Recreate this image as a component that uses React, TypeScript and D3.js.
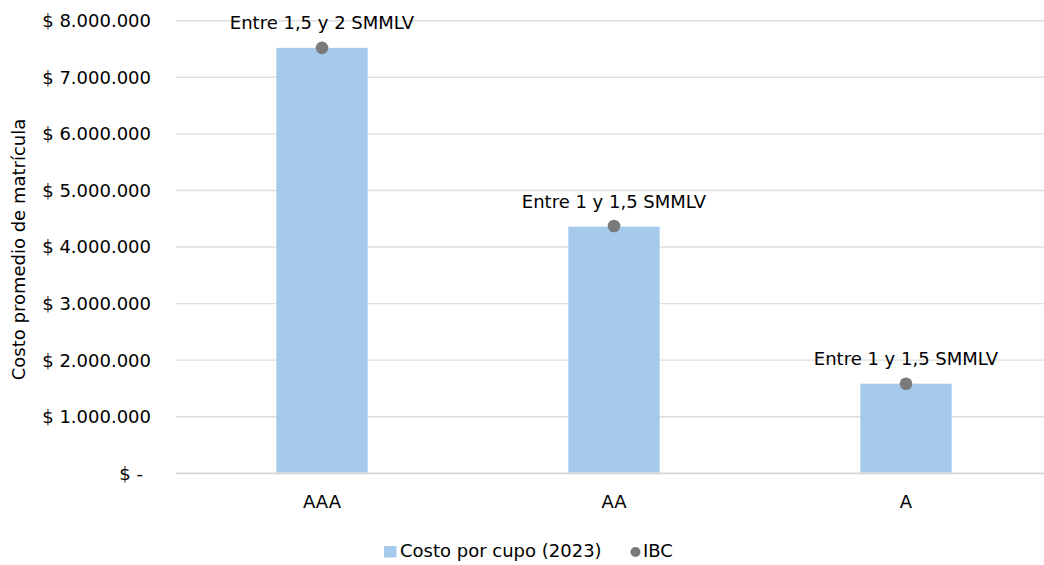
import React from "react";
import * as d3 from "d3";

const categories = ["AAA", "AA", "A"];
const costoPorCupo = [7520000, 4360000, 1584000];
const ibc = [7520000, 4370000, 1584000];
const ibcLabels = ["Entre 1,5 y 2 SMMLV", "Entre 1 y 1,5 SMMLV", "Entre 1 y 1,5 SMMLV"];
const yTicks = [0, 1000000, 2000000, 3000000, 4000000, 5000000, 6000000, 7000000, 8000000];
const yTickLabels = ["$ -", "$ 1.000.000", "$ 2.000.000", "$ 3.000.000", "$ 4.000.000", "$ 5.000.000", "$ 6.000.000", "$ 7.000.000", "$ 8.000.000"];
const yTitle = "Costo promedio de matrícula";
const legendBar = "Costo por cupo (2023)";
const legendDot = "IBC";

const W = 1044;
const H = 565;
const FONT = "'DejaVu Sans', sans-serif";
const FS = 18;

export default function App() {
  const x = d3
    .scaleBand<string>()
    .domain(categories)
    .range([176, 1052])
    .paddingInner(0.687)
    .paddingOuter(0.3435);
  const y = d3.scaleLinear().domain([0, 8000000]).range([473.3, 20.7]);

  return (
    <div style={{ position: "absolute", left: 0, top: 0 }}>
      <svg width={W} height={H} style={{ display: "block", fontFamily: FONT }}>
        <rect x={0} y={0} width={W} height={H} fill="#ffffff" />
        {/* gridlines */}
        {yTicks.map((t, i) => (
          <line
            key={"g" + i}
            x1={176}
            x2={1052}
            y1={y(t)}
            y2={y(t)}
            stroke={t === 0 ? "#D4D4D4" : "#DEDEDE"}
            strokeWidth={t === 0 ? 1.8 : 1.4}
          />
        ))}
        {/* y tick labels */}
        {yTicks.map((t, i) => (
          <text
            key={"yl" + i}
            x={t === 0 ? 143 : 151}
            y={y(t)}
            dy="0.36em"
            textAnchor="end"
            fontSize={FS}
            fill="#000"
          >
            {yTickLabels[i]}
          </text>
        ))}
        {/* y title */}
        <text
          transform={`translate(24.5, 249.5) rotate(-90)`}
          textAnchor="middle"
          fontSize={FS}
          fill="#000"
        >
          {yTitle}
        </text>
        {/* bars */}
        {categories.map((c, i) => (
          <rect
            key={"b" + i}
            x={x(c)!}
            y={y(costoPorCupo[i])}
            width={x.bandwidth()}
            height={y(0) - y(costoPorCupo[i]) - 0.9}
            fill="#A6CAEC"
          />
        ))}
        {/* IBC dots */}
        {categories.map((c, i) => (
          <circle
            key={"d" + i}
            cx={x(c)! + x.bandwidth() / 2}
            cy={y(ibc[i])}
            r={6.3}
            fill="#7A7A7A"
          />
        ))}
        {/* IBC labels */}
        {categories.map((c, i) => (
          <text
            key={"l" + i}
            x={x(c)! + x.bandwidth() / 2}
            y={y(ibc[i]) - 18.5}
            textAnchor="middle"
            fontSize={FS}
            fill="#000"
          >
            {ibcLabels[i]}
          </text>
        ))}
        {/* x labels */}
        {categories.map((c, i) => (
          <text
            key={"x" + i}
            x={x(c)! + x.bandwidth() / 2}
            y={508}
            textAnchor="middle"
            fontSize={FS}
            fill="#000"
          >
            {c}
          </text>
        ))}
        {/* legend */}
        <rect x={384} y={546} width={12.5} height={11.5} fill="#A6CAEC" />
        <text x={400} y={557} fontSize={FS} fill="#000">
          {legendBar}
        </text>
        <circle cx={635.5} cy={552} r={5} fill="#7A7A7A" />
        <text x={643} y={557} fontSize={FS} fill="#000">
          {legendDot}
        </text>
      </svg>
    </div>
  );
}
